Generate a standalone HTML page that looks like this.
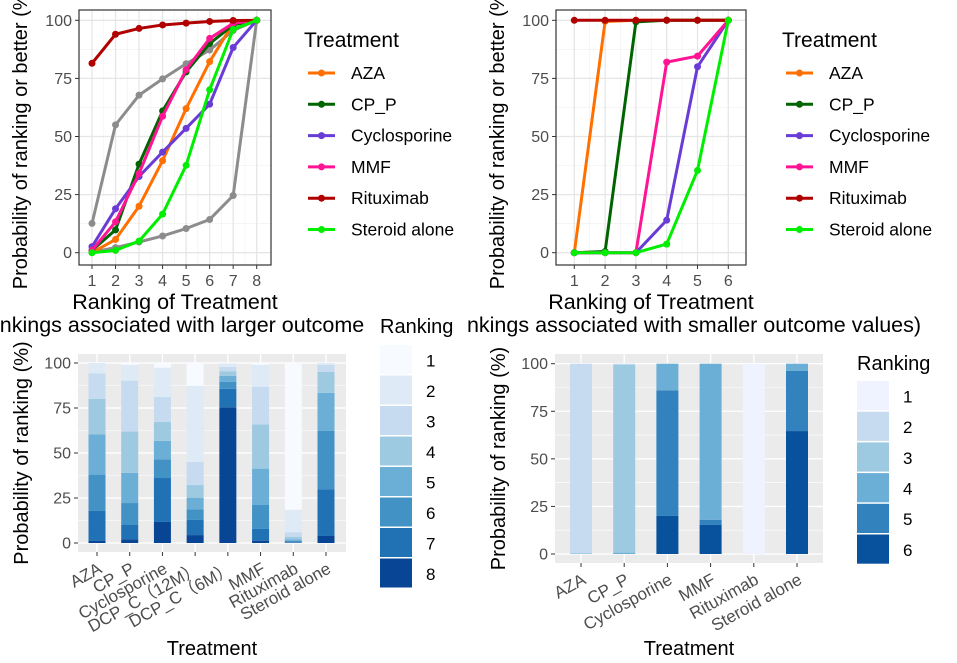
<!DOCTYPE html>
<html><head><meta charset="utf-8"><style>
body{margin:0;background:#fff;}
svg{display:block;font-family:"Liberation Sans","Noto Sans CJK SC",sans-serif;}
</style></head><body>
<svg id="chart" width="957" height="663" viewBox="0 0 957 663" xmlns="http://www.w3.org/2000/svg"></svg>
<script>
// ---- Data: larger outcome (8 ranks), percent per rank 1..8
const treatmentsL = ["AZA","CP_P","Cyclosporine","DCP_C（12M）","DCP_C（6M）","MMF","Rituximab","Steroid alone"];
const rankProbL = [
 [0,5.7,14.3,19.6,22.4,20.2,16.5,1.3],
 [1,8.8,28.3,22.9,16.8,12.2,8,2],
 [2.6,16.3,13.9,10.5,10.2,10.4,24.4,11.7],
 [12.6,42.4,12.8,7,6.5,5.9,8.4,4.4],
 [0.2,2,2.4,2.6,3.2,3.9,10.3,75.4],
 [1,12.3,20.8,24.6,20,13.5,6.5,1.3],
 [81.5,12.5,2.5,1.5,0.8,0.7,0.4,0.1],
 [0,1,4,11.6,21,32.5,26,3.9]
];
// ---- Data: smaller outcome (6 ranks)
const treatmentsR = ["AZA","CP_P","Cyclosporine","MMF","Rituximab","Steroid alone"];
const rankProbR = [
 [0,99.5,0.5,0,0,0],
 [0,0.5,98.8,0.7,0,0],
 [0,0,0,14,66,20],
 [0,0,0,82,2.6,15.4],
 [100,0,0,0,0,0],
 [0,0,0,3.7,31.7,64.6]
];
const yTicks = [0,25,50,75,100];
const legendNames = ["AZA","CP_P","Cyclosporine","MMF","Rituximab","Steroid alone"];
const lineColors = {"AZA":"#ff7000","CP_P":"#006400","Cyclosporine":"#6a3cd6","MMF":"#ff1493","Rituximab":"#b00000","Steroid alone":"#00ee00"};
const blues8 = ["#f7fbff","#deebf7","#c6dbef","#9ecae1","#6baed6","#4292c6","#2171b5","#084594"];
const blues6 = ["#eff3ff","#c6dbef","#9ecae1","#6baed6","#3182bd","#08519c"];

const NS="http://www.w3.org/2000/svg";
const svg=document.getElementById('chart');
function el(tag,attrs,parent,text){const e=document.createElementNS(NS,tag);for(const k in attrs)e.setAttribute(k,attrs[k]);if(text!==undefined)e.textContent=text;(parent||svg).appendChild(e);return e;}
function cum(a){let s=0;return a.map(v=>(s+=v,Math.min(s,100)));}

function lineChart(name,box,nR,names,probs,lx){
  const g=el('g',{});
  
  
  const x=r=>box.xa+(r-1)*(box.xb-box.xa)/(nR-1);
  const y=v=>box.y0+(box.y100-box.y0)*v/100;
  el('rect',{x:box.l,y:box.t,width:box.r-box.l,height:box.b-box.t,fill:'#fff'},g);
  for(let v=12.5;v<100;v+=25) el('line',{x1:box.l,x2:box.r,y1:y(v),y2:y(v),stroke:'#f2f2f2','stroke-width':0.7},g);
  for(let r=1.5;r<nR;r+=1) el('line',{x1:x(r),x2:x(r),y1:box.t,y2:box.b,stroke:'#f2f2f2','stroke-width':0.7},g);
  yTicks.forEach(v=>{el('line',{x1:box.l,x2:box.r,y1:y(v),y2:y(v),stroke:'#e6e6e6','stroke-width':1.3},g);
    el('line',{x1:box.l-4,x2:box.l,y1:y(v),y2:y(v),stroke:'#333'},g);
    const t=el('text',{x:box.l-7,y:y(v)+5.5,'text-anchor':'end','font-size':16,fill:'#4d4d4d'},g,String(v));
    });
  for(let r=1;r<=nR;r++){el('line',{x1:x(r),x2:x(r),y1:box.t,y2:box.b,stroke:'#e6e6e6','stroke-width':1.3},g);
    el('line',{x1:x(r),x2:x(r),y1:box.b,y2:box.b+4,stroke:'#333'},g);
    const t=el('text',{x:x(r),y:box.b+21,'text-anchor':'middle','font-size':16,fill:'#4d4d4d'},g,String(r));
    }
  const order=names.map((n,i)=>i).sort((a,b)=>(lineColors[names[a]]?1:0)-(lineColors[names[b]]?1:0));
  order.forEach(i=>{
    const c=lineColors[names[i]]||'#8c8c8c';
    const cv=cum(probs[i]);
    const pts=cv.map((v,k)=>x(k+1)+','+y(v)).join(' ');
    const pl=el('polyline',{points:pts,fill:'none',stroke:c,'stroke-width':3,'stroke-linejoin':'round'},g);
    
    
    cv.forEach((v,k)=>{const p=el('circle',{cx:x(k+1),cy:y(v),r:3.5,fill:c},g);
      });
  });
  el('rect',{x:box.l,y:box.t,width:box.r-box.l,height:box.b-box.t,fill:'none',stroke:'#333','stroke-width':1.2},g);
  const xt=el('text',{x:(box.l+box.r)/2,y:309,'text-anchor':'middle','font-size':21.5,fill:'#000'},g,'Ranking of Treatment');
  
  const yc=(box.t+box.b)/2;
  const yt=el('text',{x:0,y:0,transform:`translate(${box.l-52},${yc}) rotate(-90)`,'text-anchor':'middle','font-size':20,fill:'#000'},g,'Probability of ranking or better (%)');
  
  const lt=el('text',{x:lx-4,y:47,'font-size':21,fill:'#000'},g,'Treatment');
  
  legendNames.forEach((n,i)=>{const yy=73+i*31.3;
    const le=el('g',{},g);
    el('line',{x1:lx,x2:lx+27,y1:yy,y2:yy,stroke:lineColors[n],'stroke-width':3},le);
    el('circle',{cx:lx+13.5,cy:yy,r:3.5,fill:lineColors[n]},le);
    el('text',{x:lx+43,y:yy+6,'font-size':17.5,fill:'#000'},le,n);});
}

function barChart(name,box,names,probs,pal,bw,leg){
  const g=el('g',{});
  
  
  const n=names.length, step=(box.xb-box.xa)/(n-1);
  const x=i=>box.xa+i*step;
  const y=v=>box.y0+(box.y100-box.y0)*v/100;
  el('rect',{x:box.l,y:box.t,width:box.r-box.l,height:box.b-box.t,fill:'#ebebeb'},g);
  for(let v=12.5;v<100;v+=25) el('line',{x1:box.l,x2:box.r,y1:y(v),y2:y(v),stroke:'#fff','stroke-width':0.6},g);
  yTicks.forEach(v=>{el('line',{x1:box.l,x2:box.r,y1:y(v),y2:y(v),stroke:'#fff','stroke-width':1.3},g);
    el('line',{x1:box.l-4,x2:box.l,y1:y(v),y2:y(v),stroke:'#333'},g);
    const t=el('text',{x:box.l-7,y:y(v)+5.5,'text-anchor':'end','font-size':16,fill:'#4d4d4d'},g,String(v));
    });
  names.forEach((nm,i)=>{el('line',{x1:x(i),x2:x(i),y1:box.t,y2:box.b,stroke:'#fff','stroke-width':1.3},g);});
  names.forEach((nm,i)=>{
    let base=0;
    for(let k=probs[i].length-1;k>=0;k--){const v=probs[i][k];
      const r=el('rect',{x:x(i)-bw/2,y:y(base+v),width:bw,height:Math.max(0,y(base)-y(base+v)),fill:pal[k]},g);
      
      base+=v;}
    el('line',{x1:x(i),x2:x(i),y1:box.b,y2:box.b+4,stroke:'#333'},g);
    const t=el('text',{x:0,y:0,transform:`translate(${x(i)+6},${box.b+20}) rotate(-29)`,'text-anchor':'end','font-size':17,fill:'#4d4d4d'},g,nm);
    
  });
  const xt=el('text',{x:(box.l+box.r)/2,y:655,'text-anchor':'middle','font-size':20,fill:'#000'},g,'Treatment');
  
  const yt=el('text',{x:0,y:0,transform:`translate(${box.l-50},${(box.t+box.b)/2}) rotate(-90)`,'text-anchor':'middle','font-size':20,fill:'#000'},g,'Probability of ranking (%)');
  
  const lt=el('text',{x:leg.x,y:leg.ty,'font-size':20,fill:'#000'},g,'Ranking');
  
  pal.forEach((c,k)=>{const yy=leg.y+k*leg.h;
    const le=el('g',{},g);
    el('rect',{x:leg.x,y:yy,width:32,height:leg.h-1.5,fill:c},le);
    el('text',{x:leg.x+46,y:yy+leg.h/2+6,'font-size':17,fill:'#000'},le,String(k+1));});
}

lineChart('top-left-cumulative-chart',{l:79,r:271,t:10,b:265,xa:92,xb:256.7,y0:252.7,y100:20.3},8,treatmentsL,rankProbL,308);
lineChart('top-right-cumulative-chart',{l:556,r:746,t:10,b:265,xa:574.3,xb:728.3,y0:252.7,y100:20.3},6,treatmentsR,rankProbR,786);

const s1=el('text',{x:182,y:332,'text-anchor':'middle','font-size':21.5,fill:'#000'},svg,'nkings associated with larger outcome');

const s2=el('text',{x:694,y:332,'text-anchor':'middle','font-size':21.5,fill:'#000'},svg,'nkings associated with smaller outcome values)');


barChart('bottom-left-stacked-bar',{l:78,r:346,t:354,b:552,xa:97,xb:326,y0:543,y100:363},treatmentsL,rankProbL,blues8,17,{x:380,y:345,h:30.5,ty:333});
barChart('bottom-right-stacked-bar',{l:555,r:823,t:354,b:563,xa:581,xb:797,y0:554,y100:363.7},treatmentsR,rankProbR,blues6,22,{x:857,y:381,h:30.7,ty:370});
</script>
</body></html>
